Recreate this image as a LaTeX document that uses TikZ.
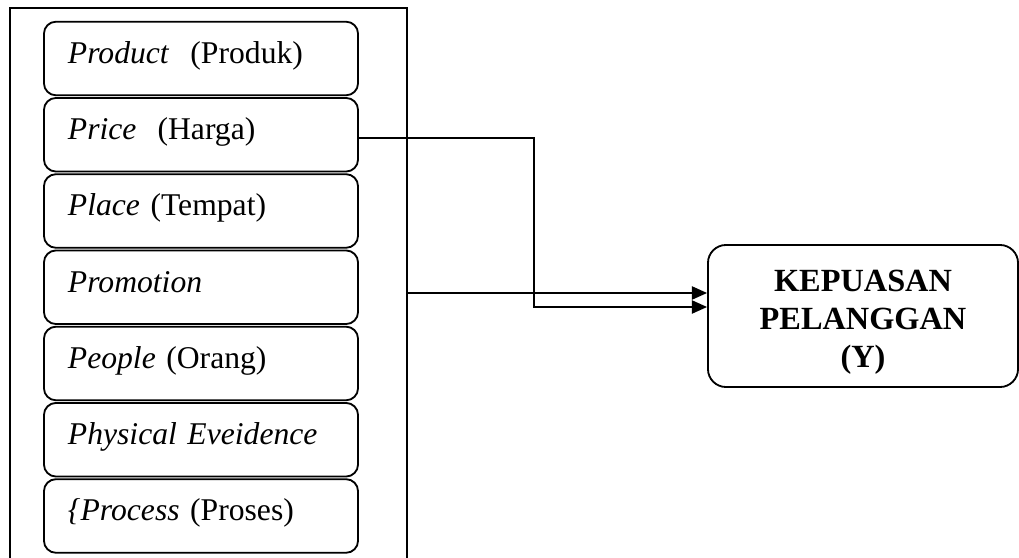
\documentclass[tikz,border=0pt]{standalone}
\usepackage{fontspec}
\setmainfont{Liberation Serif}
\usetikzlibrary{positioning,arrows.meta}

\begin{document}
\begin{tikzpicture}[
    x=0.025cm, y=-0.025cm,
    frame/.style={rectangle, draw, line width=1.3pt, minimum width=9.925cm, minimum height=14.2cm},
    mixbox/.style={rectangle, draw, line width=1.3pt, rounded corners=0.3cm, minimum width=7.85cm, minimum height=1.84cm, text width=6.65cm, inner xsep=0.6cm, text height=0.55cm, text depth=0.3cm, align=left, font=\fontsize{22.5}{27}\selectfont},
    resultbox/.style={rectangle, draw, line width=1.3pt, rounded corners=0.45cm, minimum width=7.75cm, minimum height=3.55cm, align=center, font=\bfseries\fontsize{23}{26.8}\selectfont},
    link/.style={line width=1.3pt, -{Triangle[length=0.38cm, width=0.33cm]}}
]
\useasboundingbox (0,0) rectangle (1019,558);
\clip (0,0) rectangle (1019,558);

% Marketing mix (left side)
\node[frame] at (208.5, 292) (mix-frame) {};

\node[mixbox] at (201, 58.5) (product) {\textit{Product}\ \ (Produk)};
\node[mixbox, below=0.02cm of product] (price) {\textit{Price}\ \ (Harga)};
\node[mixbox, below=0.02cm of price] (place) {\textit{Place} (Tempat)};
\node[mixbox, below=0.02cm of place] (promotion) {\textit{Promotion}};
\node[mixbox, below=0.02cm of promotion] (people) {\textit{People} (Orang)};
\node[mixbox, below=0.02cm of people] (evidence) {\textit{Physical Eveidence}};
\node[mixbox, below=0.02cm of evidence] (process) {\textit{\{Process} (Proses)};

% Customer satisfaction (right side)
\node[resultbox] at (863, 316) (kepuasan) {\rule{0pt}{0.85cm}KEPUASAN\\PELANGGAN\\(Y)};

% Arrows
\draw[link] ([yshift=-0.09cm]price.east) -- ++(175,0) |- ([yshift=0.225cm]kepuasan.west);
\draw[link] ([yshift=0.575cm]kepuasan.west -| mix-frame.east) -- ([yshift=0.575cm]kepuasan.west);

\end{tikzpicture}
\end{document}
